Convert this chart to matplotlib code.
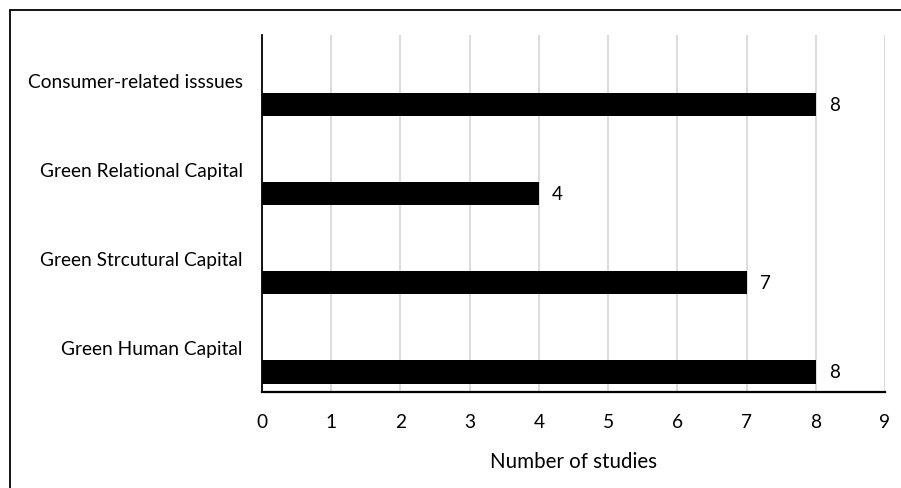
import matplotlib
matplotlib.use("Agg")
import matplotlib.pyplot as plt
from matplotlib.patches import Rectangle
import numpy as np

plt.rcParams['font.family'] = ['Lato', 'DejaVu Sans']

categories = ["Green Human Capital", "Green Strcutural Capital",
              "Green Relational Capital", "Consumer-related isssues"]
studies = [8, 7, 4, 8]
x_ticks = list(range(0, 10))
x_label = "Number of studies"

fig = plt.figure(figsize=(9.01, 4.89), dpi=100)
ax = fig.add_axes([0.2908, 0.1963, 0.6914, 0.7301])

pos = np.arange(len(categories))
bar_shift = -0.275
bar_h = 0.26
ax.barh(pos + bar_shift, studies, height=bar_h, color="black", zorder=3)

for p, v in zip(pos, studies):
    ax.annotate(str(v), xy=(v, p + bar_shift), xytext=(13, 0),
                textcoords="offset pixels",
                va="center", ha="left", fontsize=13.5, color="black")

ax.set_xlim(0, 9)
ax.set_ylim(-0.5, len(categories) - 0.5)
ax.set_xticks(x_ticks)
ax.set_yticks(pos)
ax.set_yticklabels(categories)
ax.tick_params(axis="both", length=0, labelsize=13.8, colors="black")
ax.tick_params(axis="y", pad=14)
ax.tick_params(axis="x", pad=15)
ax.set_xlabel(x_label, fontsize=14.8, labelpad=15)

ax.grid(axis="x", color="#d9d9d9", linewidth=1.3, zorder=0)
ax.set_axisbelow(True)
for s in ("top", "right"):
    ax.spines[s].set_visible(False)
ax.spines["left"].set_linewidth(1.3)
ax.spines["bottom"].set_linewidth(1.6)

# outer frame (open at the right and bottom edges)
fig.add_artist(Rectangle((10 / 901, -0.1), 1.2, 1.1 - 11 / 489,
                         transform=fig.transFigure, fill=False,
                         edgecolor="black", linewidth=1.3))

fig.savefig("out.png", dpi=100)
